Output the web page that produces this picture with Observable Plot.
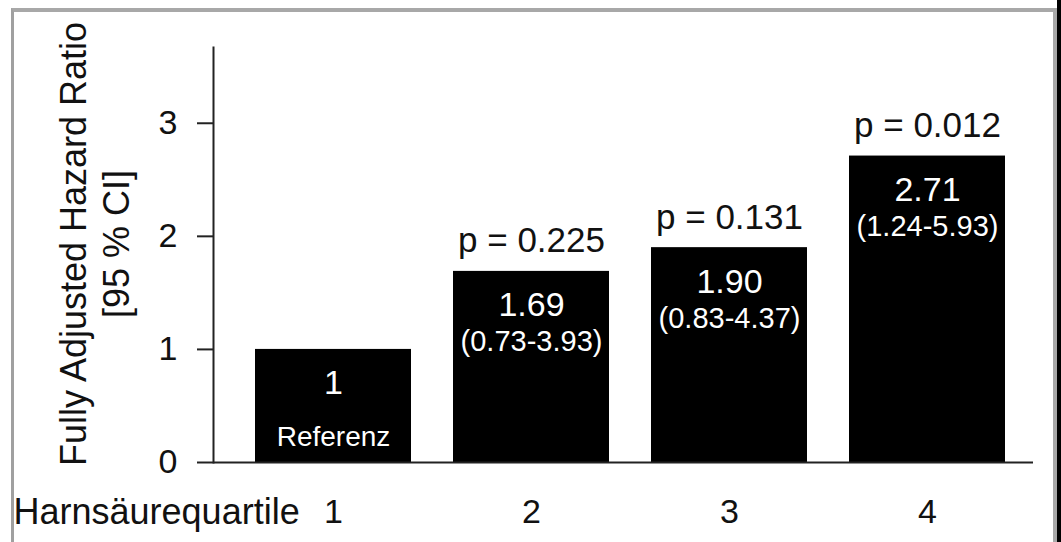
<!DOCTYPE html>
<html><head><meta charset="utf-8">
<script src="https://cdn.jsdelivr.net/npm/d3@7"></script>
<script src="https://cdn.jsdelivr.net/npm/@observablehq/plot@0.6"></script>
<style>
html,body{margin:0;padding:0;background:#fff;width:1061px;height:542px;overflow:hidden;}
#frame{position:absolute;left:11px;top:8px;width:1046px;height:560px;border-top:4px solid #a8a8a8;border-left:3px solid #a0a0a0;border-right:4px solid #a8a8a8;box-sizing:border-box}
#edge{position:absolute;right:0;top:0;width:4px;height:542px;background:#000}
#chart{position:absolute;left:0;top:0}
</style></head><body>
<div id="frame"></div><div id="edge"></div><div id="chart"></div>
<script>
const quartiles = ["1", "2", "3", "4"];
const hazardRatios = [1, 1.69, 1.90, 2.71];
const valueLabels = ["1", "1.69", "1.90", "2.71"];
const ciLabels = ["", "(0.73-3.93)", "(0.83-4.37)", "(1.24-5.93)"];
const pLabels = ["", "p = 0.225", "p = 0.131", "p = 0.012"];
const referenceLabel = "Referenz";
const yTicks = [0, 1, 2, 3];
const xTitle = "Harnsäurequartile";
const yTitle = "Fully Adjusted Hazard Ratio\n[95 % CI]";

const rows = quartiles.map((q, i) => ({q, hr: hazardRatios[i], value: valueLabels[i], ci: ciLabels[i], p: pLabels[i]}));
const font = "'Liberation Sans', Arial, sans-serif";

const plot = Plot.plot({
  width: 1061, height: 542,
  marginTop: 47, marginBottom: 80, marginLeft: 213, marginRight: 28,
  style: {fontFamily: font, background: "transparent", color: "#111"},
  x: {domain: quartiles, paddingInner: 0.211, paddingOuter: 0.166, align: 0.606},
  y: {domain: [0, 3.67]},
  marks: [
    Plot.barY(rows, {x: "q", y: "hr", fill: "#000"}),
    Plot.axisY({ticks: yTicks, tickSize: 16, tickPadding: 20, tickFormat: d => String(d), fontSize: 34, label: null, stroke: "#222", strokeWidth: 2}),
    Plot.axisX({tickSize: 0, tickPadding: 36, fontSize: 34, label: null}),
    Plot.frame({anchor: "left", stroke: "#222", strokeWidth: 2}),
    Plot.ruleY([0], {stroke: "#222", strokeWidth: 2}),
    Plot.text(rows.filter(d => d.p), {x: "q", y: "hr", text: "p", dy: -19, lineAnchor: "bottom", fontSize: 35, fill: "#111"}),
    Plot.text(rows, {x: "q", y: "hr", text: "value", dy: 45, lineAnchor: "bottom", fontSize: 34, fill: "#fff"}),
    Plot.text(rows.filter(d => d.ci), {x: "q", y: "hr", text: "ci", dy: 80, lineAnchor: "bottom", fontSize: 29, fill: "#fff"}),
    Plot.text(rows.filter(d => !d.ci), {x: "q", y: "hr", text: () => referenceLabel, dy: 97, lineAnchor: "bottom", fontSize: 28, fill: "#fff"}),
    Plot.text([yTitle], {frameAnchor: "left", rotate: -90, dx: -157, dy: -11, lineAnchor: "top", textAnchor: "middle", fontSize: 36, lineHeight: 1.17, fill: "#111"}),
    Plot.text([xTitle], {frameAnchor: "bottom-left", dx: -200, dy: 61, lineAnchor: "bottom", textAnchor: "start", fontSize: 36, fill: "#111"})
  ]
});
document.getElementById("chart").appendChild(plot);
</script>
</body></html>
